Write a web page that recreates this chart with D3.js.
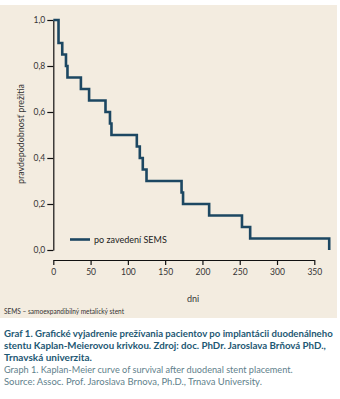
<!DOCTYPE html>
<html>
<head>
<meta charset="utf-8">
<script src="https://cdn.jsdelivr.net/npm/d3@7"></script>
<style>
  body { margin: 0; background: #fff; }
  svg { display: block; font-family: Lato, "Open Sans", sans-serif; }
</style>
</head>
<body>
<svg id="km-svg" width="340" height="399"></svg>
<script>
// Kaplan-Meier data: day of each event and survival after it
const days = [0, 7, 12, 17, 19, 37, 48, 70, 76, 78, 112, 116, 120, 125, 172, 174, 209, 253, 264, 370];
const survival = [1.0, 0.9, 0.85, 0.8, 0.75, 0.7, 0.65, 0.6, 0.55, 0.5, 0.45, 0.4, 0.35, 0.3, 0.25, 0.2, 0.15, 0.1, 0.05, 0.0];

const xTicks = [0, 50, 100, 150, 200, 250, 300, 350];
const yTicks = [0, 0.2, 0.4, 0.6, 0.8, 1.0];

const seriesName = "po zavedení SEMS";
const xTitle = "dni";
const yTitle = "pravdepodobnosť prežitia";
const footnote = "SEMS – samoexpandibilný metalický stent";
const captionSk = [
    "Graf 1. Grafické vyjadrenie prežívania pacientov po implantácii duodenálneho",
    "stentu Kaplan-Meierovou krivkou. Zdroj: doc. PhDr. Jaroslava Brňová PhD.,",
    "Trnavská univerzita."
];
const captionEn = [
    "Graph 1. Kaplan-Meier curve of survival after duodenal stent placement.",
    "Source: Assoc. Prof. Jaroslava Brnova, Ph.D., Trnava University."
];

const points = days.map((d, i) => ({ day: d, s: survival[i] }));

var svg = d3.select("#km-svg");

// beige panel behind the chart
svg.append("rect")
    .attr("x", 0).attr("y", 5)
    .attr("width", 337).attr("height", 313)
    .attr("fill", "#f3ece0");

var x = d3.scaleLinear().domain([0, 350]).range([53.3, 314.3]);
var y = d3.scaleLinear().domain([0, 1]).range([250, 20]);

const comma = v => d3.format(".1f")(v).replace(".", ",");

// Y axis
var yAxis = svg.append("g")
    .attr("transform", "translate(53.3,0)")
    .call(d3.axisLeft(y).tickValues(yTicks).tickFormat(comma).tickSize(6).tickSizeOuter(0));

// X axis, set a little below the y=0 line
var xAxis = svg.append("g")
    .attr("transform", "translate(0,260)")
    .call(d3.axisBottom(x).tickValues(xTicks).tickSize(5).tickSizeOuter(0));

[yAxis, xAxis].forEach(a => {
    a.selectAll("path, line").attr("stroke", "#111").attr("stroke-width", 1.2);
    a.selectAll("text").attr("fill", "#333").style("font-size", "8.5px").style("font-family", "Lato, sans-serif");
});
yAxis.selectAll("text").attr("x", -8);
xAxis.selectAll("text").attr("y", 9);

// survival curve
var line = d3.line()
    .x(d => x(d.day))
    .y(d => y(d.s))
    .curve(d3.curveStepAfter);

svg.append("path")
    .datum(points)
    .attr("d", line)
    .attr("fill", "none")
    .attr("stroke", "#1c4762")
    .attr("stroke-width", 2.6);

// legend
svg.append("line")
    .attr("x1", 70).attr("x2", 90)
    .attr("y1", 239.5).attr("y2", 239.5)
    .attr("stroke", "#1c4762").attr("stroke-width", 2.6);
svg.append("text")
    .attr("x", 94).attr("y", 242.5)
    .attr("fill", "#222")
    .style("font-size", "9px")
    .text(seriesName);

// axis titles
svg.append("text")
    .attr("x", 193).attr("y", 302)
    .attr("text-anchor", "middle")
    .attr("fill", "#333")
    .style("font-size", "9px")
    .text(xTitle);

svg.append("text")
    .attr("transform", "translate(24,134) rotate(-90)")
    .attr("text-anchor", "middle")
    .attr("fill", "#333")
    .style("font-size", "9px")
    .attr("textLength", 100)
    .attr("lengthAdjust", "spacingAndGlyphs")
    .text(yTitle);

svg.append("text")
    .attr("x", 4).attr("y", 314)
    .attr("fill", "#333")
    .style("font-size", "7.6px")
    .attr("textLength", 120)
    .attr("lengthAdjust", "spacingAndGlyphs")
    .text(footnote);

// caption under the panel; font size picked so each line fits its width
function fitLine(sel, width) {
    var w = sel.node().getComputedTextLength();
    var fs = parseFloat(sel.style("font-size"));
    sel.style("font-size", (fs * width / w).toFixed(2) + "px");
}

const skWidths = [329, 322, 88];
captionSk.forEach((t, i) => {
    var txt = svg.append("text")
        .attr("x", 4).attr("y", 337 + i * 12)
        .attr("fill", "#1d5873")
        .style("font-size", "10px")
        .style("font-weight", "bold")
        .text(t);
    fitLine(txt, skWidths[i]);
});
const enWidths = [289, 258];
captionEn.forEach((t, i) => {
    var txt = svg.append("text")
        .attr("x", 4).attr("y", 373 + i * 12)
        .attr("fill", "#5f7f8c")
        .style("font-size", "10px")
        .text(t);
    fitLine(txt, enWidths[i]);
});
</script>
</body>
</html>
